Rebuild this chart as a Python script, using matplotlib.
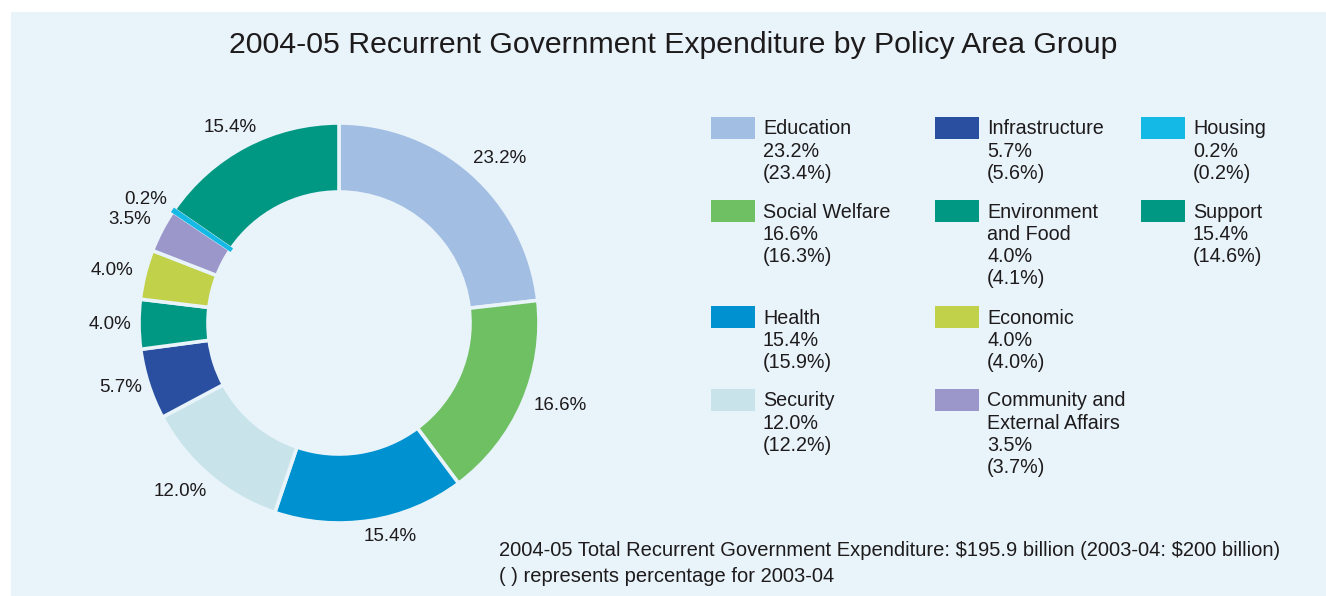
import matplotlib
matplotlib.use("Agg")
import matplotlib.pyplot as plt
import numpy as np
from matplotlib.patches import Rectangle

plt.rcParams['font.family'] = ['Liberation Sans', 'DejaVu Sans']

# ---- data ----
categories = ["Education", "Social Welfare", "Health", "Security", "Infrastructure",
              "Environment and Food", "Economic", "Community and External Affairs",
              "Housing", "Support"]
share_0405 = [23.2, 16.6, 15.4, 12.0, 5.7, 4.0, 4.0, 3.5, 0.2, 15.4]
share_0304 = [23.4, 16.3, 15.9, 12.2, 5.6, 4.1, 4.0, 3.7, 0.2, 14.6]
colors = ["#A3BEE3", "#6EC062", "#0092D0", "#C9E3EA", "#2B4FA0",
          "#009783", "#C2D14A", "#9C97CA", "#14B9E6", "#009783"]
# legend display names (line-wrapped as in the original)
legend_names = {"Environment and Food": "Environment\nand Food",
                "Community and External Affairs": "Community and\nExternal Affairs"}
# legend grid layout: (category, column, row)
legend_layout = [("Education", 0, 0), ("Infrastructure", 1, 0), ("Housing", 2, 0),
                 ("Social Welfare", 0, 1), ("Environment and Food", 1, 1), ("Support", 2, 1),
                 ("Health", 0, 2), ("Economic", 1, 2),
                 ("Security", 0, 3), ("Community and External Affairs", 1, 3)]

title = "2004-05 Recurrent Government Expenditure by Policy Area Group"
footer1 = "2004-05 Total Recurrent Government Expenditure: \\$195.9 billion (2003-04: \\$200 billion)"
footer2 = "( ) represents percentage for 2003-04"

BG = "#E8F3FA"
TXT = "#1E1B1C"
W, H = 1326, 596

fig = plt.figure(figsize=(W / 100, H / 100), dpi=100, facecolor="white")

# full-figure overlay axes in pixel coordinates
bg = fig.add_axes([0, 0, 1, 1])
bg.set_xlim(0, W)
bg.set_ylim(H, 0)
bg.set_axis_off()
bg.add_patch(Rectangle((11, 12), W - 11, H - 12, facecolor=BG, edgecolor="none"))

bg.text(673, 45, title, fontsize=21.8, color=TXT, ha="center", va="center")

# ---- donut ----
cx, cy, R = 339, 323, 200
pax = fig.add_axes([(cx - R) / W, (H - cy - R) / H, 2 * R / W, 2 * R / H])
wedges, _ = pax.pie(share_0405, colors=colors, startangle=90, counterclock=False,
                    radius=1.0,
                    wedgeprops=dict(width=0.345, edgecolor=BG, linewidth=2.6))
# keep very thin slices visible above the separating gaps
for w, v in zip(wedges, share_0405):
    if v < 1:
        w.set_edgecolor(w.get_facecolor())
        w.set_linewidth(2.0)
        w.set_zorder(5)
pax.set_xlim(-1, 1)
pax.set_ylim(-1, 1)
pax.set_axis_off()

# outer percentage labels (angle nudges for crowded small slices)
angle_nudge = [-2.5, 3, 4.5, -3, -1.5, 0, 1, 1.3, 1.6, 1.3]
label_r = [1.15, 1.18, 1.10, 1.16, 1.14, 1.145, 1.165, 1.165, 1.15, 1.12]
for w, v, dn, r in zip(wedges, share_0405, angle_nudge, label_r):
    ang = np.deg2rad((w.theta1 + w.theta2) / 2 + dn)
    pax.text(r * np.cos(ang), r * np.sin(ang), f"{v:.1f}%", fontsize=13.5,
             color=TXT, ha="center", va="center", clip_on=False)

# ---- legend ----
col_x = [711, 935, 1141]
row_y = [117, 200, 306, 389]
line_h = 22.3
for name, c, r in legend_layout:
    i = categories.index(name)
    x0, y0 = col_x[c], row_y[r]
    bg.add_patch(Rectangle((x0, y0), 44, 22, facecolor=colors[i], edgecolor="none"))
    lines = legend_names.get(name, name).split("\n")
    lines += [f"{share_0405[i]:.1f}%", f"({share_0304[i]:.1f}%)"]
    for k, ln in enumerate(lines):
        bg.text(x0 + 52, y0 + 12 + k * line_h, ln, fontsize=14.2, color=TXT,
                ha="left", va="center")

bg.text(499, 551, footer1, fontsize=14.5, color=TXT, ha="left", va="center")
bg.text(499, 577, footer2, fontsize=14.5, color=TXT, ha="left", va="center")

fig.savefig("out.png", dpi=100, facecolor="white")
